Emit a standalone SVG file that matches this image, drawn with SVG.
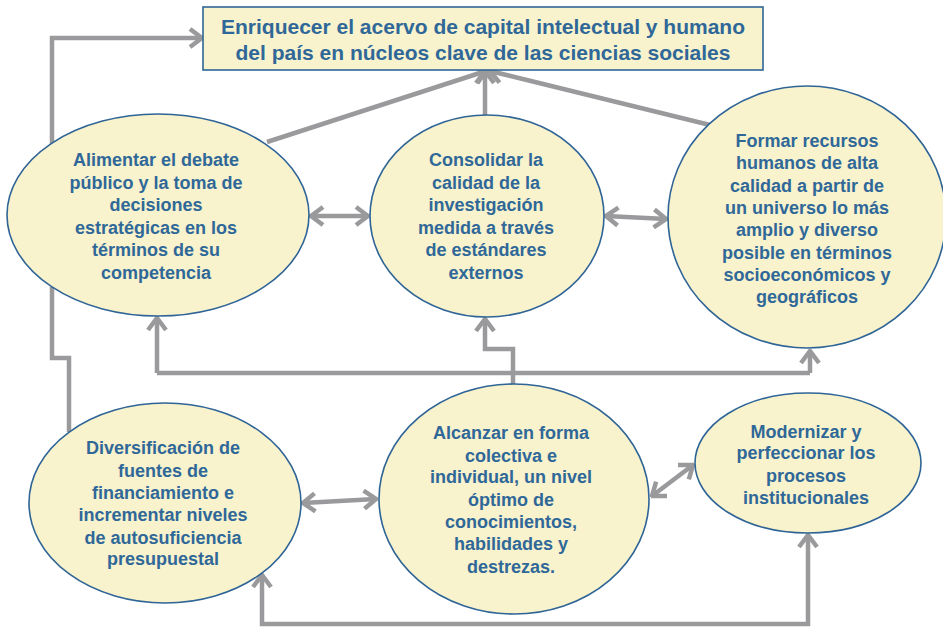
<svg xmlns="http://www.w3.org/2000/svg" width="943" height="627" viewBox="0 0 943 627">
<style>
.n{fill:#F8F2CD;stroke:#2E6496;stroke-width:1.6}
.t{font-family:"Liberation Sans",Arial,sans-serif;font-weight:bold;font-size:18px;fill:#2F6898;text-anchor:middle}
.tt{font-size:21px}
.c{fill:none;stroke:#9A9A9D;stroke-width:4.5;stroke-linejoin:miter}
.a{marker-end:url(#ah)}
.b{marker-start:url(#ah);marker-end:url(#ah)}
</style>
<defs>
<marker id="ah" viewBox="0 0 16 22" refX="14" refY="11" markerWidth="16" markerHeight="22" markerUnits="userSpaceOnUse" orient="auto-start-reverse">
<path d="M2,2 L14,11 L2,20" fill="none" stroke="#9A9A9D" stroke-width="4.5"/>
</marker>
</defs>
<rect width="943" height="627" fill="#fff"/>
<g id="connectors">
<path class="c a" d="M52,145 V38 H202"/>
<path class="c a" d="M267,142 L486,71"/>
<path class="c a" d="M485,115 V71"/>
<path class="c a" d="M710,125 L490,71"/>
<path class="c b" d="M311,216 H368"/>
<path class="c b" d="M606,216 L666,219"/>
<path class="c" d="M157,373 H810"/>
<path class="c a" d="M157,373 V318"/>
<path class="c a" d="M810,373 V351"/>
<path class="c a" d="M513,384 V349 H485 V319"/>
<path class="c" d="M52,287 V358 H69 V432"/>
<path class="c b" d="M303,503 L376,499"/>
<path class="c b" d="M652,496 L693,465"/>
<path class="c b" d="M262,575 V624 H808 V535"/>
</g>
<g id="goal">
<rect class="n" x="203" y="7" width="560" height="63"/>
<text class="t tt" x="483" y="34">Enriquecer el acervo de capital intelectual y humano</text>
<text class="t tt" x="483" y="60">del país en núcleos clave de las ciencias sociales</text>
</g>
<g id="alimentar">
<ellipse class="n" cx="158" cy="215" rx="151" ry="101"/>
<text class="t" x="156" y="166">Alimentar el debate</text>
<text class="t" x="156" y="189">público y la toma de</text>
<text class="t" x="156" y="211">decisiones</text>
<text class="t" x="156" y="234">estratégicas en los</text>
<text class="t" x="156" y="256">términos de su</text>
<text class="t" x="156" y="279">competencia</text>
</g>
<g id="consolidar">
<ellipse class="n" cx="487" cy="216" rx="117" ry="101"/>
<text class="t" x="486" y="166">Consolidar la</text>
<text class="t" x="486" y="189">calidad de la</text>
<text class="t" x="486" y="211">investigación</text>
<text class="t" x="486" y="234">medida a través</text>
<text class="t" x="486" y="256">de estándares</text>
<text class="t" x="486" y="279">externos</text>
</g>
<g id="formar">
<ellipse class="n" cx="807" cy="217" rx="139" ry="131"/>
<text class="t" x="807" y="147">Formar recursos</text>
<text class="t" x="807" y="169">humanos de alta</text>
<text class="t" x="807" y="192">calidad a partir de</text>
<text class="t" x="807" y="214">un universo lo más</text>
<text class="t" x="807" y="236">amplio y diverso</text>
<text class="t" x="807" y="259">posible en términos</text>
<text class="t" x="807" y="281">socioeconómicos y</text>
<text class="t" x="807" y="303">geográficos</text>
</g>
<g id="diversificacion">
<ellipse class="n" cx="165" cy="503" rx="136" ry="100"/>
<text class="t" x="163" y="454">Diversificación de</text>
<text class="t" x="163" y="477">fuentes de</text>
<text class="t" x="163" y="499">financiamiento e</text>
<text class="t" x="163" y="521">incrementar niveles</text>
<text class="t" x="163" y="544">de autosuficiencia</text>
<text class="t" x="163" y="565">presupuestal</text>
</g>
<g id="alcanzar">
<ellipse class="n" cx="514" cy="499" rx="135" ry="115"/>
<text class="t" x="511" y="439">Alcanzar en forma</text>
<text class="t" x="511" y="462">colectiva e</text>
<text class="t" x="511" y="483">individual, un nivel</text>
<text class="t" x="511" y="506">óptimo de</text>
<text class="t" x="511" y="528">conocimientos,</text>
<text class="t" x="511" y="550">habilidades y</text>
<text class="t" x="511" y="573">destrezas.</text>
</g>
<g id="modernizar">
<ellipse class="n" cx="808" cy="463" rx="113" ry="70"/>
<text class="t" x="806" y="438">Modernizar y</text>
<text class="t" x="806" y="459">perfeccionar los</text>
<text class="t" x="806" y="482">procesos</text>
<text class="t" x="806" y="504">institucionales</text>
</g>
</svg>
